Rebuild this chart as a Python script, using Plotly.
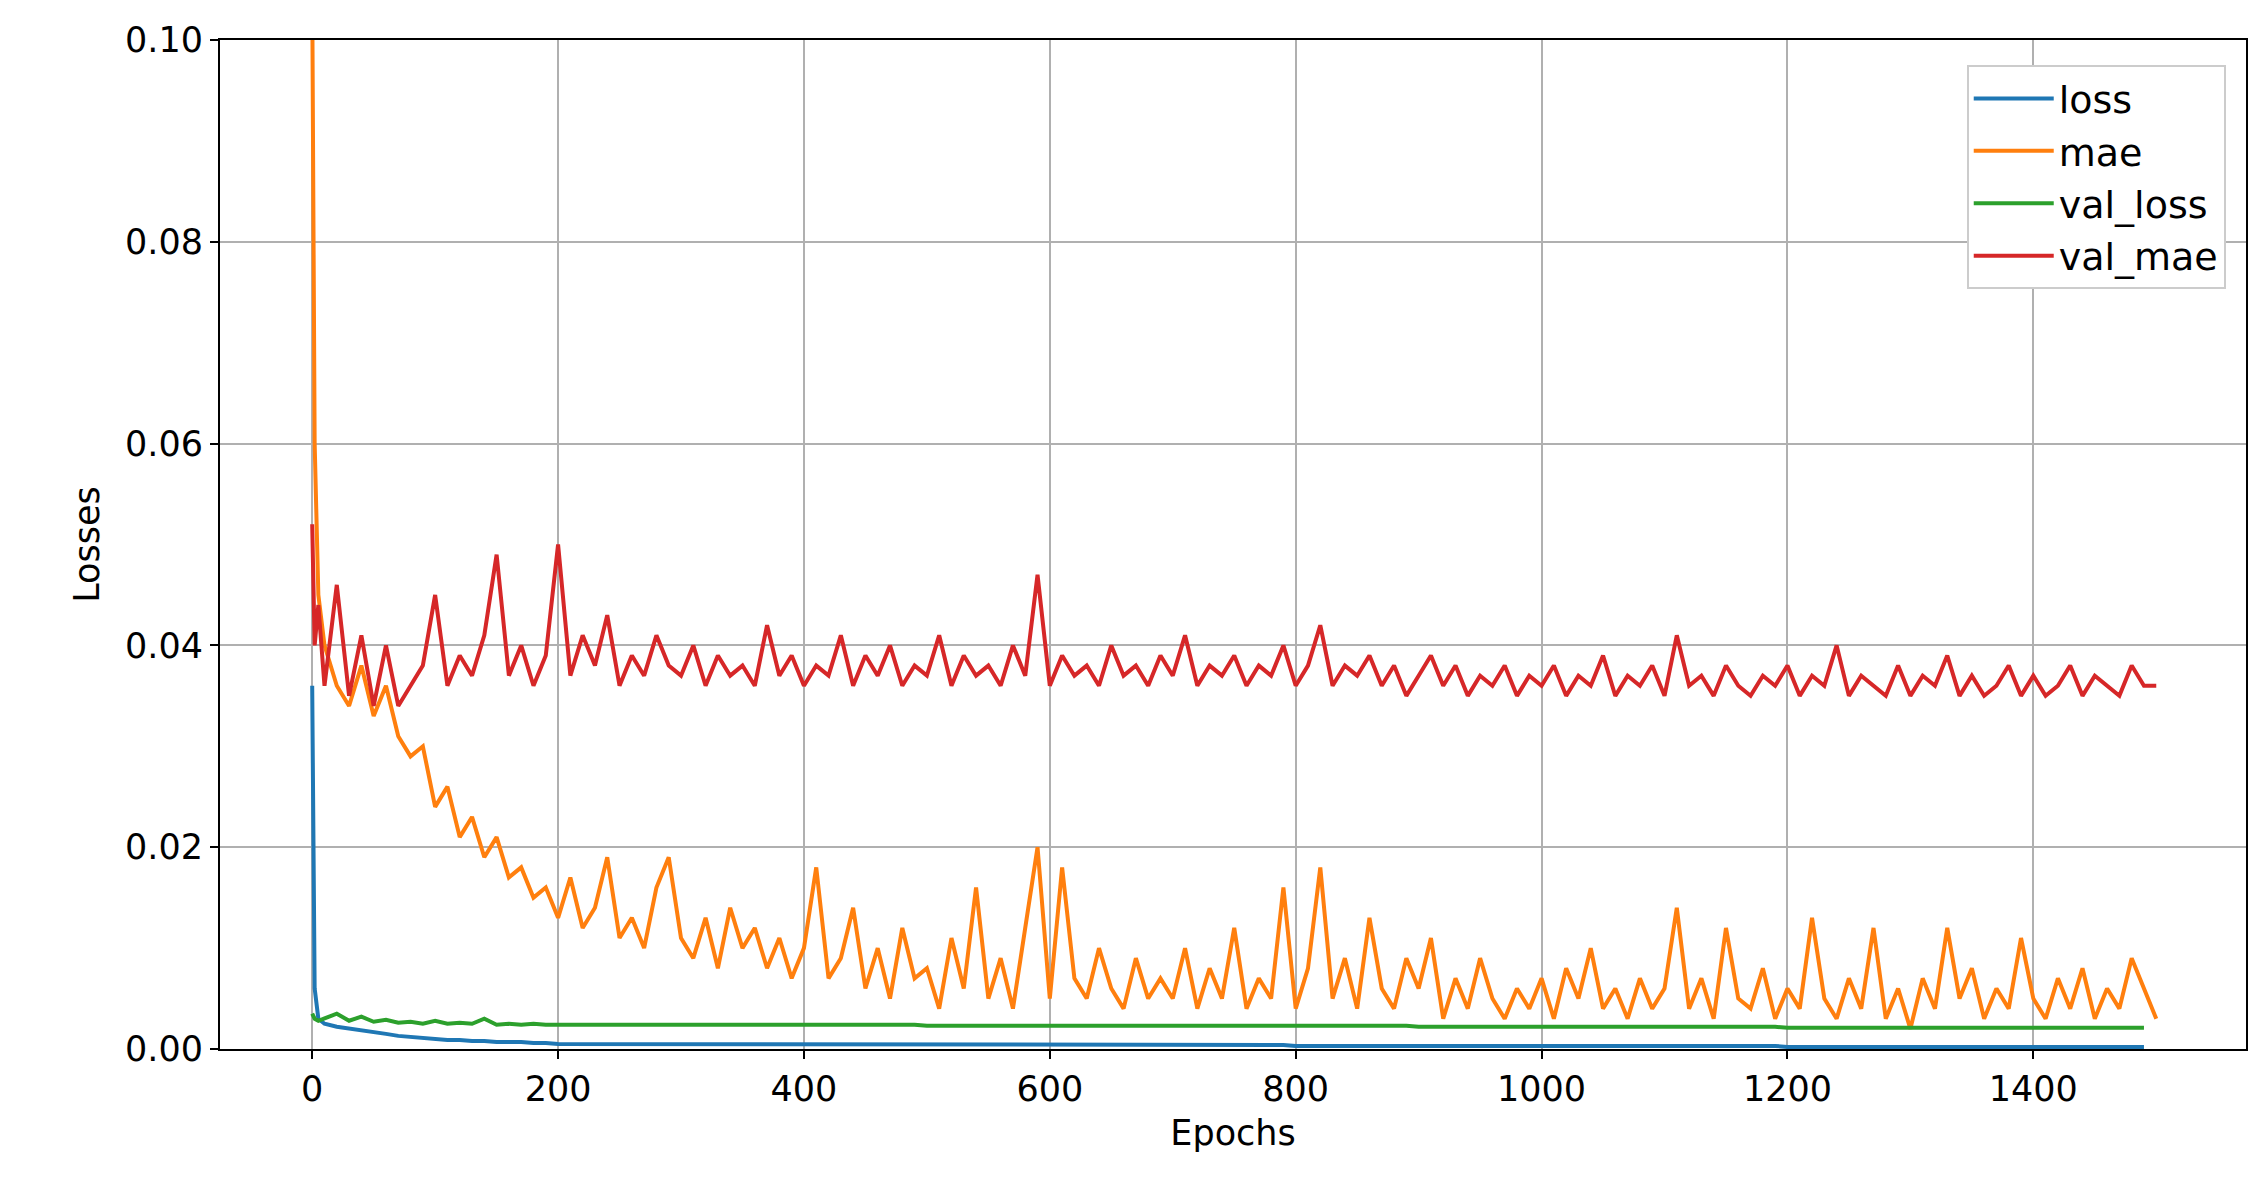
import plotly.graph_objects as go

epochs = [0, 2, 5] + list(range(10, 1501, 10))

mae = [0.105, 0.060, 0.045,
 0.040,0.036,0.034,0.038,0.033,0.036,0.031,0.029,0.030,
 0.024,0.026,0.021,0.023,0.019,0.021,0.017,0.018,0.015,0.016,
 0.013,0.017,0.012,0.014,0.019,0.011,0.013,0.010,0.016,0.019,
 0.011,0.009,0.013,0.008,0.014,0.010,0.012,0.008,0.011,0.007,
 0.010,0.018,0.007,0.009,0.014,0.006,0.010,0.005,0.012,0.007,
 0.008,0.004,0.011,0.006,0.016,0.005,0.009,0.004,0.012,0.020,
 0.005,0.018,0.007,0.005,0.010,0.006,0.004,0.009,0.005,0.007,
 0.005,0.010,0.004,0.008,0.005,0.012,0.004,0.007,0.005,0.016,
 0.004,0.008,0.018,0.005,0.009,0.004,0.013,0.006,0.004,0.009,
 0.006,0.011,0.003,0.007,0.004,0.009,0.005,0.003,0.006,0.004,
 0.007,0.003,0.008,0.005,0.010,0.004,0.006,0.003,0.007,0.004,
 0.006,0.014,0.004,0.007,0.003,0.012,0.005,0.004,0.008,0.003,
 0.006,0.004,0.013,0.005,0.003,0.007,0.004,0.012,0.003,0.006,
 0.002,0.007,0.004,0.012,0.005,0.008,0.003,0.006,0.004,0.011,
 0.005,0.003,0.007,0.004,0.008,0.003,0.006,0.004,0.009,0.006,0.003]

val_mae = [0.052, 0.040, 0.044,
 0.036,0.046,0.035,0.041,0.034,0.040,0.034,0.036,0.038,
 0.045,0.036,0.039,0.037,0.041,0.049,0.037,0.040,0.036,0.039,
 0.050,0.037,0.041,0.038,0.043,0.036,0.039,0.037,0.041,0.038,
 0.037,0.040,0.036,0.039,0.037,0.038,0.036,0.042,0.037,0.039,
 0.036,0.038,0.037,0.041,0.036,0.039,0.037,0.040,0.036,0.038,
 0.037,0.041,0.036,0.039,0.037,0.038,0.036,0.040,0.037,0.047,
 0.036,0.039,0.037,0.038,0.036,0.040,0.037,0.038,0.036,0.039,
 0.037,0.041,0.036,0.038,0.037,0.039,0.036,0.038,0.037,0.040,
 0.036,0.038,0.042,0.036,0.038,0.037,0.039,0.036,0.038,0.035,
 0.037,0.039,0.036,0.038,0.035,0.037,0.036,0.038,0.035,0.037,
 0.036,0.038,0.035,0.037,0.036,0.039,0.035,0.037,0.036,0.038,
 0.035,0.041,0.036,0.037,0.035,0.038,0.036,0.035,0.037,0.036,
 0.038,0.035,0.037,0.036,0.040,0.035,0.037,0.036,0.035,0.038,
 0.035,0.037,0.036,0.039,0.035,0.037,0.035,0.036,0.038,0.035,
 0.037,0.035,0.036,0.038,0.035,0.037,0.036,0.035,0.038,0.036,0.036]

loss = [0.036, 0.006, 0.003,
 0.0025,0.0022,0.0020,0.0018,0.0016,0.0015,0.0013,0.0012,0.0011,
 0.0010,0.0009,0.0009,0.0008,0.0008,0.0007,0.0007,0.0007,0.0006,0.0006] + \
 [0.0005]*20 + [0.0004]*40 + [0.0003]*40 + [0.0002]*30

val_loss = [0.0035, 0.003, 0.0028,
 0.0030,0.0035,0.0028,0.0032,0.0027,0.0029,0.0026,0.0027,0.0025,
 0.0028,0.0025,0.0026,0.0025,0.0030,0.0024,0.0025,0.0024,0.0025,0.0024] + \
 [0.0024]*30 + [0.0023]*40 + [0.0022]*30 + [0.0021]*30

names = ["loss", "mae", "val_loss", "val_mae"]
colors = ["#1f77b4", "#ff7f0e", "#2ca02c", "#d62728"]
series = [loss, mae, val_loss, val_mae]

fig = go.Figure()
for n, c, s in zip(names, colors, series):
    fig.add_trace(go.Scatter(x=epochs, y=s, mode="lines", name=n,
                             line=dict(color=c, width=4)))

axis_common = dict(showline=True, linecolor="black", linewidth=2, mirror=True,
                   showgrid=True, gridcolor="#b0b0b0", gridwidth=1.5,
                   ticks="outside", ticklen=8, tickwidth=2, tickcolor="black",
                   zeroline=False, tickfont=dict(size=35, color="black"))
fig.update_xaxes(range=[-75, 1573], tickvals=list(range(0, 1401, 200)),
                 title=dict(text="Epochs", font=dict(size=35, color="black"), standoff=12), **axis_common)
fig.update_yaxes(range=[0, 0.1], tickvals=[0, 0.02, 0.04, 0.06, 0.08, 0.10],
                 tickformat=".2f",
                 title=dict(text="Losses", font=dict(size=35, color="black")), **axis_common)

fig.update_layout(width=2266, height=1195, plot_bgcolor="white", paper_bgcolor="white",
                  font=dict(family="DejaVu Sans"),
                  margin=dict(l=212, r=28, t=28, b=154),
                  legend=dict(x=0.99, y=0.975, xanchor="right", yanchor="top",
                              bordercolor="#cccccc", borderwidth=2, bgcolor="white",
                              itemwidth=80, tracegroupgap=6,
                              font=dict(size=38, color="black")))
fig.write_html("out.html")
